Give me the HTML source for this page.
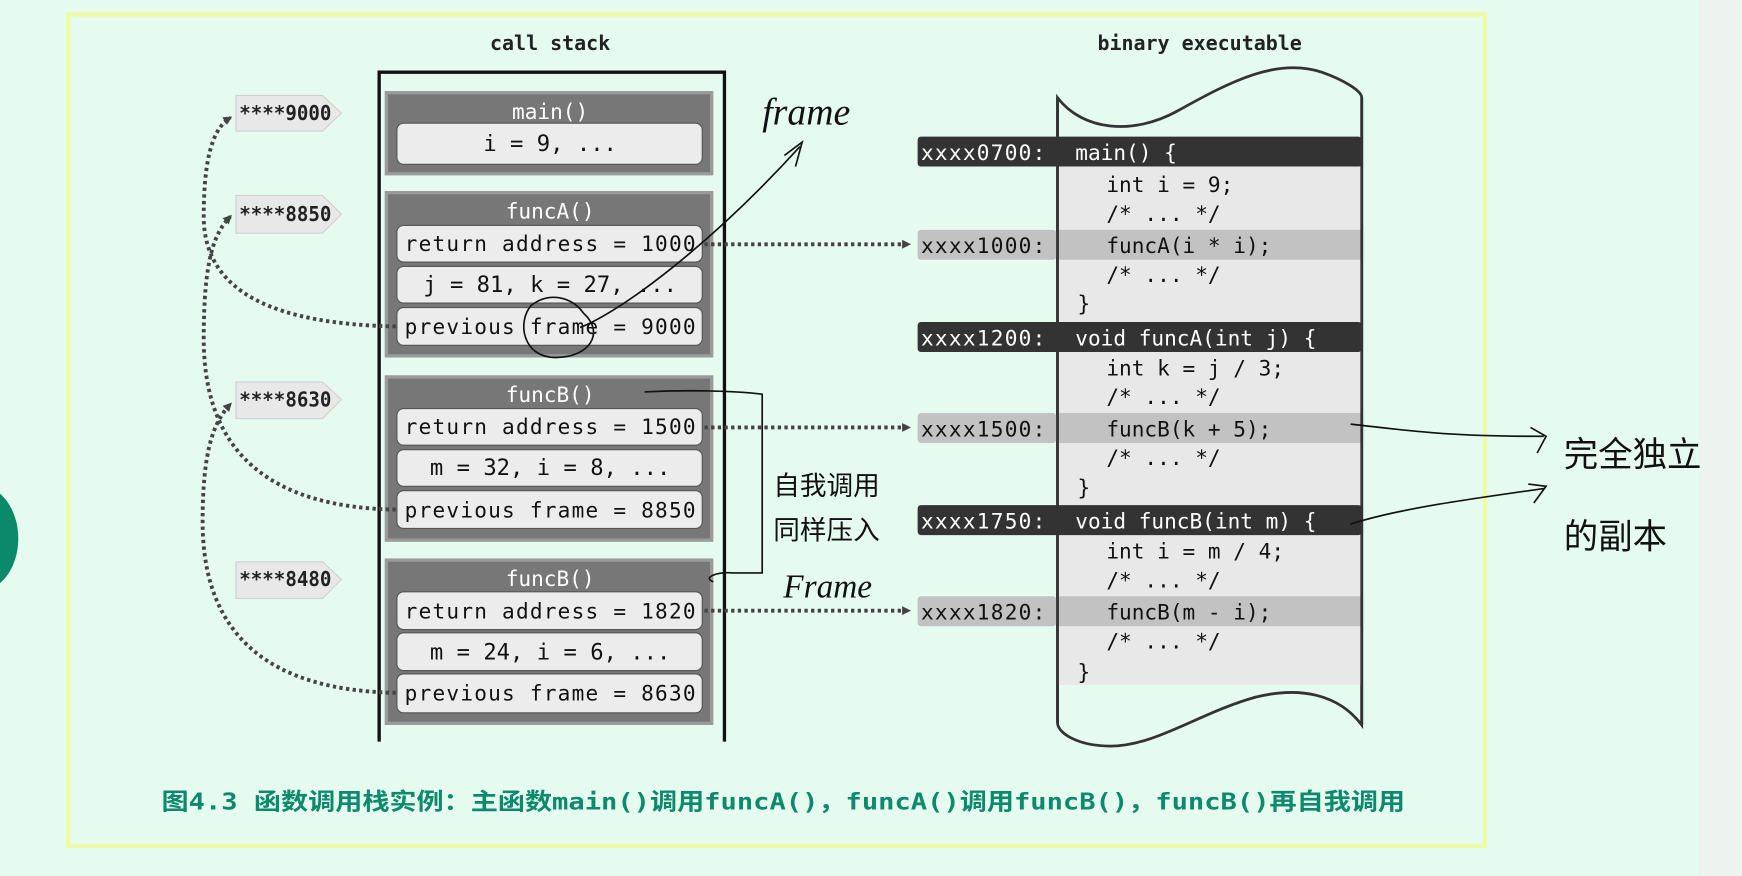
<!DOCTYPE html>
<html><head><meta charset="utf-8"><style>
html,body{margin:0;padding:0;width:1742px;height:876px;overflow:hidden;background:#e6fbf0;}
svg{display:block}
.m{font-family:"DejaVu Sans Mono","Liberation Mono",monospace;}
</style></head><body>
<svg width="1742" height="876" viewBox="0 0 1568 789" xmlns="http://www.w3.org/2000/svg">
<defs>
<marker id="ah" markerWidth="8" markerHeight="8" refX="6" refY="4" orient="auto" markerUnits="userSpaceOnUse"><path d="M0,0 L8,4 L0,8z" fill="#444"/></marker>
</defs>
<rect x="0" y="0" width="1568" height="789" fill="#e6fbf0"/>
<rect x="1530" y="0" width="38" height="789" fill="#edf3ef"/>
<ellipse cx="-20" cy="485" rx="36" ry="48" fill="#0a8a6a"/>
<rect x="61" y="13" width="1276" height="749" fill="none" stroke="#eefaa6" stroke-width="4"/>

<text x="495" y="45" text-anchor="middle" class="m" font-size="18" font-weight="bold" fill="#222">call stack</text>
<text x="1080" y="45" text-anchor="middle" class="m" font-size="18" font-weight="bold" fill="#222">binary executable</text>

<path d="M341,668 V65 H652 V668" fill="none" stroke="#111" stroke-width="3"/>

<g class="m" font-size="19">
<rect x="346" y="82" width="296" height="76" fill="#9a9a9a"/>
<rect x="349" y="85" width="290" height="70" fill="#777"/>
<text x="495" y="107" text-anchor="middle" fill="#fff" font-size="19">main()</text>
<rect x="357" y="111" width="275" height="37" rx="6" fill="#ececec" stroke="#555"/>
<text x="495" y="136" text-anchor="middle" fill="#111" font-size="20">i = 9, ...</text>
<rect x="346" y="172" width="296" height="150" fill="#9a9a9a"/>
<rect x="349" y="175" width="290" height="144" fill="#777"/>
<text x="495" y="197" text-anchor="middle" fill="#fff" font-size="19">funcA()</text>
<rect x="357" y="203" width="275" height="33" rx="6" fill="#ececec" stroke="#555"/>
<text x="495" y="226" text-anchor="middle" fill="#111" textLength="262">return address = 1000</text>
<rect x="357" y="240" width="275" height="33" rx="6" fill="#ececec" stroke="#555"/>
<text x="495" y="263" text-anchor="middle" fill="#111" font-size="20">j = 81, k = 27, ...</text>
<rect x="357" y="277" width="275" height="34" rx="6" fill="#ececec" stroke="#555"/>
<text x="495" y="301" text-anchor="middle" fill="#111" textLength="262">previous frame = 9000</text>
<rect x="346" y="338" width="296" height="150" fill="#9a9a9a"/>
<rect x="349" y="341" width="290" height="144" fill="#777"/>
<text x="495" y="362" text-anchor="middle" fill="#fff" font-size="19">funcB()</text>
<rect x="357" y="368" width="275" height="33" rx="6" fill="#ececec" stroke="#555"/>
<text x="495" y="391" text-anchor="middle" fill="#111" textLength="262">return address = 1500</text>
<rect x="357" y="405" width="275" height="33" rx="6" fill="#ececec" stroke="#555"/>
<text x="495" y="428" text-anchor="middle" fill="#111" font-size="20">m = 32, i = 8, ...</text>
<rect x="357" y="442" width="275" height="34" rx="6" fill="#ececec" stroke="#555"/>
<text x="495" y="466" text-anchor="middle" fill="#111" textLength="262">previous frame = 8850</text>
<rect x="346" y="503" width="296" height="150" fill="#9a9a9a"/>
<rect x="349" y="506" width="290" height="144" fill="#777"/>
<text x="495" y="528" text-anchor="middle" fill="#fff" font-size="19">funcB()</text>
<rect x="357" y="533" width="275" height="34" rx="6" fill="#ececec" stroke="#555"/>
<text x="495" y="557" text-anchor="middle" fill="#111" textLength="262">return address = 1820</text>
<rect x="357" y="570" width="275" height="34" rx="6" fill="#ececec" stroke="#555"/>
<text x="495" y="594" text-anchor="middle" fill="#111" font-size="20">m = 24, i = 6, ...</text>
<rect x="357" y="607" width="275" height="35" rx="6" fill="#ececec" stroke="#555"/>
<text x="495" y="631" text-anchor="middle" fill="#111" textLength="262">previous frame = 8630</text>
</g>

<g class="m" font-size="18" font-weight="bold" fill="#222">
<path d="M212,86 H290 L307,102 L290,118 H212z" fill="#e8e8e8" stroke="#d0d0d0"/>
<text x="215" y="108" textLength="83" lengthAdjust="spacingAndGlyphs">****9000</text>
<path d="M212,176 H290 L307,193 L290,210 H212z" fill="#e8e8e8" stroke="#d0d0d0"/>
<text x="215" y="199" textLength="83" lengthAdjust="spacingAndGlyphs">****8850</text>
<path d="M212,344 H290 L307,360 L290,377 H212z" fill="#e8e8e8" stroke="#d0d0d0"/>
<text x="215" y="366" textLength="83" lengthAdjust="spacingAndGlyphs">****8630</text>
<path d="M212,506 H290 L307,522 L290,539 H212z" fill="#e8e8e8" stroke="#d0d0d0"/>
<text x="215" y="528" textLength="83" lengthAdjust="spacingAndGlyphs">****8480</text>
</g>

<g fill="none" stroke="#444" stroke-width="3.5" stroke-dasharray="3 3">
<path d="M356,294 C250,292 183,265 183,195 C183,140 192,115 207,106" marker-end="url(#ah)"/>
<path d="M356,459 C245,457 183,410 183,305 C183,235 192,210 207,195" marker-end="url(#ah)"/>
<path d="M356,624 C245,622 182,575 182,470 C182,405 192,380 207,364" marker-end="url(#ah)"/>
<path d="M634,220 H818" marker-end="url(#ah)"/>
<path d="M634,385 H818" marker-end="url(#ah)"/>
<path d="M634,550 H818" marker-end="url(#ah)"/>
</g>

<path d="M952,88 C975,118 1020,122 1060,100 C1110,72 1150,52 1190,65 C1210,72 1226,82 1226,88 V653 C1205,625 1170,618 1130,628 C1080,642 1040,672 1000,672 C970,672 952,660 952,651 Z" fill="#e6fbf0" stroke="#333" stroke-width="2.5"/>
<rect x="953" y="150" width="272" height="467" fill="#e8e8e8"/>
<g fill="#333">
<rect x="826" y="123" width="400" height="27" rx="3"/>
<rect x="826" y="290" width="400" height="27" rx="3"/>
<rect x="826" y="455" width="400" height="27" rx="3"/>
</g>
<g fill="#c2c2c2">
<rect x="826" y="207" width="125" height="27" rx="3"/><rect x="953" y="207" width="272" height="27"/>
<rect x="826" y="372" width="125" height="27" rx="3"/><rect x="953" y="372" width="272" height="27"/>
<rect x="826" y="537" width="125" height="27" rx="3"/><rect x="953" y="537" width="272" height="27"/>
</g>
<line x1="952" y1="88" x2="952" y2="651" stroke="#333" stroke-width="2.5"/>
<line x1="1226" y1="88" x2="1226" y2="653" stroke="#333" stroke-width="2.5"/>
<g class="m" font-size="19">
<g fill="#fff">
<text x="829" y="144" textLength="112">xxxx0700:</text><text x="968" y="144">main() {</text>
<text x="829" y="311" textLength="112">xxxx1200:</text><text x="968" y="311">void funcA(int j) {</text>
<text x="829" y="476" textLength="112">xxxx1750:</text><text x="968" y="476">void funcB(int m) {</text>
</g>
<g fill="#111">
<text x="996" y="173">int i = 9;</text>
<text x="996" y="199">/* ... */</text>
<text x="829" y="228" textLength="112">xxxx1000:</text><text x="996" y="228">funcA(i * i);</text>
<text x="996" y="254">/* ... */</text>
<text x="970" y="280">}</text>
<text x="996" y="338">int k = j / 3;</text>
<text x="996" y="364">/* ... */</text>
<text x="829" y="393" textLength="112">xxxx1500:</text><text x="996" y="393">funcB(k + 5);</text>
<text x="996" y="419">/* ... */</text>
<text x="970" y="446">}</text>
<text x="996" y="503">int i = m / 4;</text>
<text x="996" y="529">/* ... */</text>
<text x="829" y="558" textLength="112">xxxx1820:</text><text x="996" y="558">funcB(m - i);</text>
<text x="996" y="584">/* ... */</text>
<text x="970" y="612">}</text>
</g>
</g>

<g fill="none" stroke="#111" stroke-width="1.5">
<path d="M522,295 C560,280 640,220 720,132"/>
<path d="M706,140 L722,128 L716,150"/>
<path d="M525,282 C545,300 530,322 500,322 C470,322 465,290 478,275 C495,262 515,268 525,282"/>
<path d="M580,353 C620,351 660,352 686,355 V516 H660 C645,515 632,520 642,524"/>
<path d="M1216,382 C1270,388 1300,393 1390,393 M1378,385 L1392,393 L1384,408"/>
<path d="M1216,472 C1260,458 1320,450 1390,440 M1376,436 L1392,438 L1381,453"/>
</g>
<g font-family="'Liberation Serif','Noto Sans CJK SC',sans-serif" fill="#111">
<text x="686" y="112" font-size="34" font-style="italic">frame</text>
<text x="696" y="446" font-size="24">自我调用</text>
<text x="696" y="486" font-size="24">同样压入</text>
<text x="705" y="538" font-size="30" font-style="italic">Frame</text>
<text x="1408" y="420" font-size="31">完全独立</text>
<text x="1408" y="494" font-size="31">的副本</text>
</g>

<text x="145" y="729" font-family="'DejaVu Sans Mono','Noto Sans CJK SC',monospace" font-size="21" font-weight="bold" fill="#0d8a6c" textLength="1120" lengthAdjust="spacingAndGlyphs">图4.3 函数调用栈实例：主函数main()调用funcA()，funcA()调用funcB()，funcB()再自我调用</text>
</svg>
</body></html>
